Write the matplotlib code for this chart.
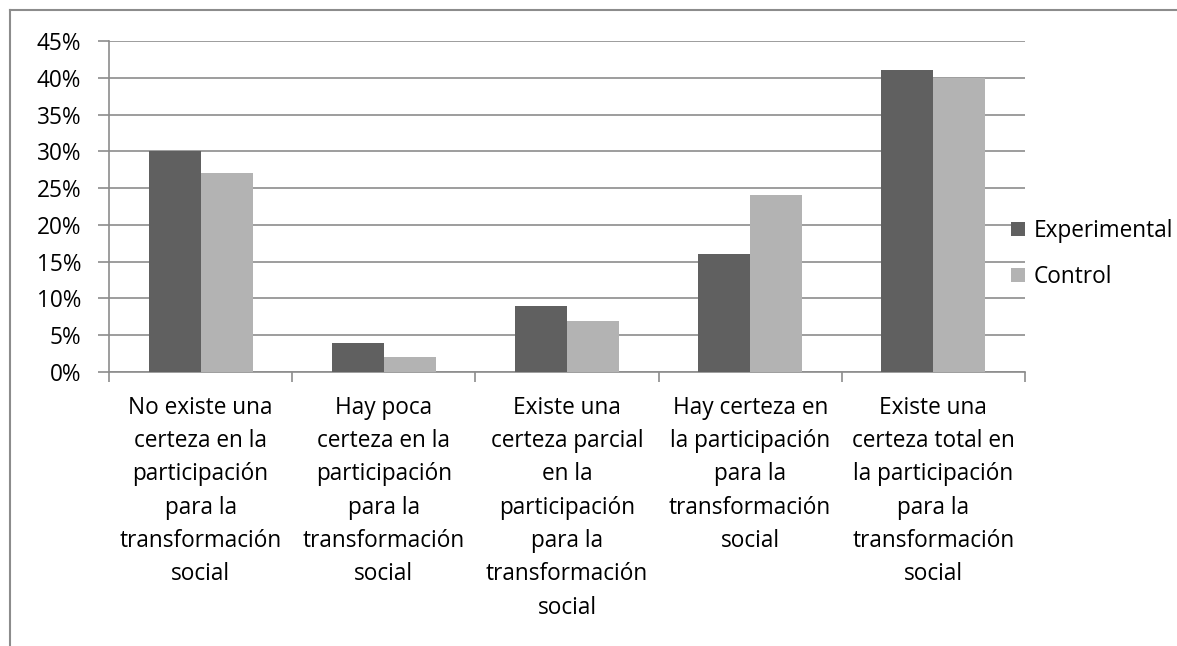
import matplotlib.pyplot as plt
import numpy as np
from matplotlib.lines import Line2D
from matplotlib.ticker import PercentFormatter

categories = [
    "No existe una\ncerteza en la\nparticipación\npara la\ntransformación\nsocial",
    "Hay poca\ncerteza en la\nparticipación\npara la\ntransformación\nsocial",
    "Existe una\ncerteza parcial\nen la\nparticipación\npara la\ntransformación\nsocial",
    "Hay certeza en\nla participación\npara la\ntransformación\nsocial",
    "Existe una\ncerteza total en\nla participación\npara la\ntransformación\nsocial",
]
experimental = [30, 4, 9, 16, 41]
control = [27, 2, 7, 24, 40]

plt.rcParams['font.family'] = ['Open Sans', 'DejaVu Sans']
fs = 16.3

W, H = 1177, 646
fig = plt.figure(figsize=(W / 100, H / 100), dpi=100)
ax = fig.add_axes([109 / W, 1 - 372 / H, (1025 - 109) / W, (372 - 41) / H])

x = np.arange(len(categories))
bw = 0.284
ax.bar(x - bw / 2, experimental, bw, color='#606060', label='Experimental', zorder=3)
ax.bar(x + bw / 2, control, bw, color='#b3b3b3', label='Control', zorder=3)

ax.set_xlim(-0.5, len(categories) - 0.5)
ax.set_ylim(0, 45)
ax.set_yticks(np.arange(0, 46, 5))
ax.yaxis.set_major_formatter(PercentFormatter(decimals=0))
ax.grid(axis='y', color='#8c8c8c', linewidth=1.2, zorder=0)

ax.set_xticks(x)
ax.set_xticklabels(categories, fontsize=fs, linespacing=1.52, va='top')
ax.set_xticks(np.arange(-0.5, len(categories)), minor=True)
ax.tick_params(axis='x', which='major', length=0, pad=17)
ax.tick_params(axis='x', which='minor', length=7, width=1.2, color='#8c8c8c')
ax.tick_params(axis='y', length=8, width=1.2, color='#8c8c8c', labelsize=fs, pad=12)

for s in ['top', 'right']:
    ax.spines[s].set_visible(False)
for s in ['left', 'bottom']:
    ax.spines[s].set_color('#8c8c8c')
    ax.spines[s].set_linewidth(1.2)

ax.legend(loc='center left', bbox_to_anchor=(1011 / W, 1 - 254 / H),
          bbox_transform=fig.transFigure, frameon=False, fontsize=fs,
          handlelength=0.6, handleheight=0.6, handletextpad=0.4,
          labelspacing=0.97, borderaxespad=0, borderpad=0)

# outer chart border (left and top visible)
fig.add_artist(Line2D([9.5 / W, 9.5 / W], [0, 1 - 10 / H], color='#8c8c8c', lw=1.5,
                      transform=fig.transFigure))
fig.add_artist(Line2D([9.5 / W, 1], [1 - 10 / H, 1 - 10 / H], color='#8c8c8c', lw=1.5,
                      transform=fig.transFigure))

fig.savefig('out.png', dpi=100)
